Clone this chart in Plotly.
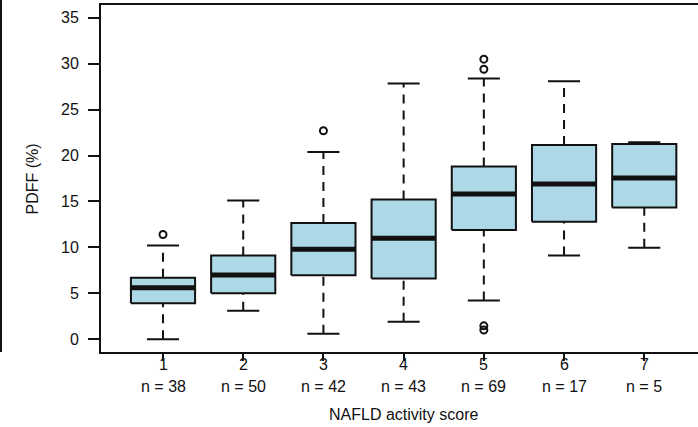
import plotly.graph_objects as go

# ---- data ----
scores = [1, 2, 3, 4, 5, 6, 7]
n_counts = [38, 50, 42, 43, 69, 17, 5]
lower_whisker = [0.0, 3.1, 0.6, 1.9, 4.2, 9.1, 9.95]
q1 = [3.9, 5.0, 6.95, 6.6, 11.9, 12.8, 14.35]
median = [5.6, 7.0, 9.8, 11.0, 15.8, 16.9, 17.55]
q3 = [6.7, 9.1, 12.65, 15.2, 18.8, 21.15, 21.25]
upper_whisker = [10.2, 15.1, 20.4, 27.85, 28.4, 28.1, 21.45]
outlier_x = [1, 3, 5, 5, 5, 5]
outlier_y = [11.4, 22.7, 30.5, 29.4, 1.45, 1.0]
y_ticks = [0, 5, 10, 15, 20, 25, 30, 35]

BOX_HALF = 0.4
CAP_HALF = 0.2
FILL = "#ADD8E6"
INK = "#111111"
FONT = "Liberation Sans, Arial, sans-serif"
PLOT_H = 347.0  # plot area height in px (for paper offsets)

fig = go.Figure()

# whiskers (dashed)
wx, wy = [], []
for s, lw, a, b, uw in zip(scores, lower_whisker, q1, q3, upper_whisker):
    wx += [s, s, None, s, s, None]
    wy += [lw, a, None, b, uw, None]
fig.add_trace(go.Scatter(x=wx, y=wy, mode="lines",
                         line=dict(color=INK, width=2, dash="9px,7px"),
                         hoverinfo="skip", showlegend=False))

# caps
cx, cy = [], []
for s, lw, uw in zip(scores, lower_whisker, upper_whisker):
    cx += [s - CAP_HALF, s + CAP_HALF, None, s - CAP_HALF, s + CAP_HALF, None]
    cy += [lw, lw, None, uw, uw, None]
fig.add_trace(go.Scatter(x=cx, y=cy, mode="lines",
                         line=dict(color=INK, width=2),
                         hoverinfo="skip", showlegend=False))

# boxes
for s, a, b in zip(scores, q1, q3):
    fig.add_trace(go.Scatter(
        x=[s - BOX_HALF, s + BOX_HALF, s + BOX_HALF, s - BOX_HALF, s - BOX_HALF],
        y=[a, a, b, b, a], mode="lines", fill="toself", fillcolor=FILL,
        line=dict(color=INK, width=2), hoverinfo="skip", showlegend=False))

# medians
mx, my = [], []
for s, m in zip(scores, median):
    mx += [s - BOX_HALF, s + BOX_HALF, None]
    my += [m, m, None]
fig.add_trace(go.Scatter(x=mx, y=my, mode="lines",
                         line=dict(color=INK, width=5),
                         hoverinfo="skip", showlegend=False))

# outliers
fig.add_trace(go.Scatter(x=outlier_x, y=outlier_y, mode="markers",
                         marker=dict(symbol="circle-open", size=7, color=INK,
                                     line=dict(width=2, color=INK)),
                         hoverinfo="skip", showlegend=False))

# category labels under the axis (score and n)
annotations = []
for s, n in zip(scores, n_counts):
    annotations.append(dict(text=str(s), xref="x", yref="paper", x=s,
                            y=-12.5 / PLOT_H, xanchor="center", yanchor="middle",
                            showarrow=False, font=dict(size=16, color=INK)))
    annotations.append(dict(text=f"n = {n}", xref="x", yref="paper", x=s,
                            y=-34.5 / PLOT_H, xanchor="center", yanchor="middle",
                            showarrow=False, font=dict(size=16, color=INK)))
annotations.append(dict(text="NAFLD activity score", xref="x", yref="paper",
                        x=4.0, y=-62.5 / PLOT_H, xanchor="center",
                        yanchor="middle", showarrow=False,
                        font=dict(size=16, color=INK)))
annotations.append(dict(text="PDFF (%)", xref="paper", yref="paper",
                        x=-0.114, y=0.5, xanchor="center", yanchor="middle",
                        textangle=-90, showarrow=False,
                        font=dict(size=16, color=INK)))

fig.update_layout(
    width=698, height=427,
    margin=dict(l=101, r=0, t=5, b=75),
    paper_bgcolor="white", plot_bgcolor="white",
    font=dict(family=FONT, size=16, color=INK),
    xaxis=dict(range=[0.227, 7.67], tickmode="array", tickvals=scores,
               showticklabels=False, ticks="outside", ticklen=7, tickwidth=2,
               tickcolor=INK, showline=True, linewidth=2, linecolor=INK,
               mirror=True, showgrid=False, zeroline=False, automargin=False),
    yaxis=dict(range=[-1.4, 36.4], tickmode="array", tickvals=y_ticks,
               ticks="outside", ticklen=11, tickwidth=2, tickcolor=INK,
               showline=True, linewidth=2, linecolor=INK, mirror=False,
               showgrid=False, zeroline=False, ticklabelstandoff=6,
               automargin=False, tickfont=dict(size=16, color=INK)),
    annotations=annotations,
    shapes=[dict(type="line", xref="paper", yref="paper",
                 x0=-0.1675, x1=-0.1675, y0=0, y1=1.03,
                 line=dict(color=INK, width=2))],
)

fig.write_html("out.html", config={"displayModeBar": False},
               post_script="document.body.style.margin='0';")
